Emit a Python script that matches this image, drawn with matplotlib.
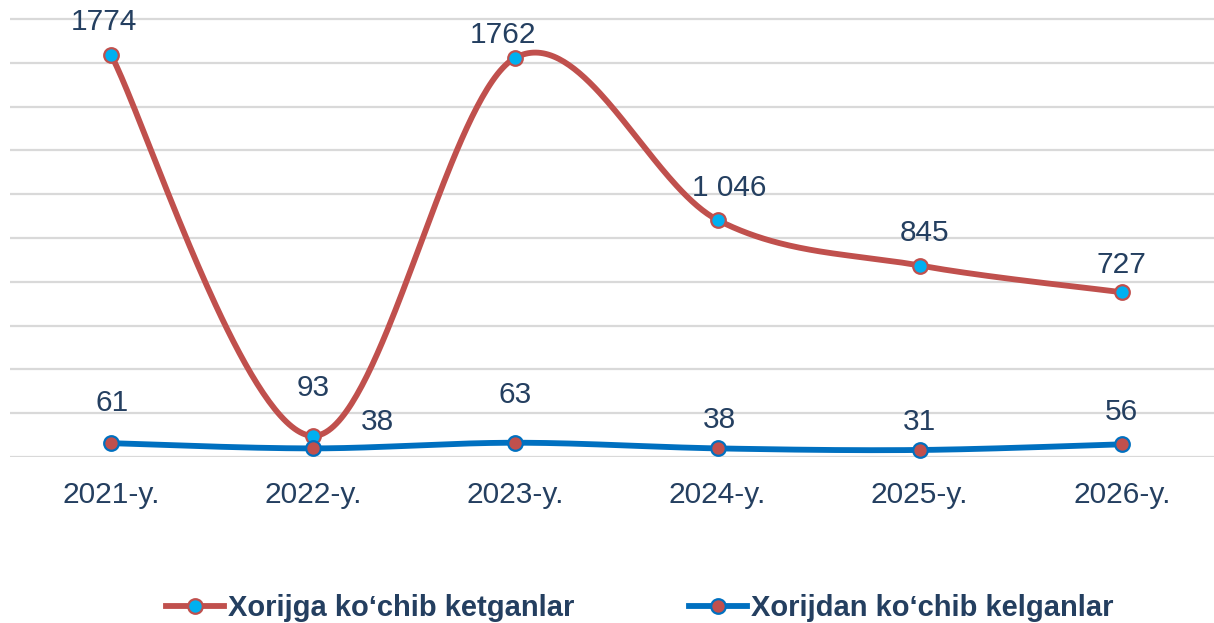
import numpy as np
import matplotlib.pyplot as plt

plt.rcParams['font.family'] = ['Liberation Sans', 'DejaVu Sans']

# -------- DATA --------
years = ["2021-y.", "2022-y.", "2023-y.", "2024-y.", "2025-y.", "2026-y."]
ketgan = [1774, 93, 1762, 1046, 845, 727]
ketgan_text = ["1774", "93", "1762", "1 046", "845", "727"]
kelgan = [61, 38, 63, 38, 31, 56]
kelgan_text = ["61", "38", "63", "38", "31", "56"]
names = ["Xorijga ko\u2018chib ketganlar", "Xorijdan ko\u2018chib kelganlar"]

# label offsets (pixels, from point to label centre)
ketgan_off = [(-7, 33), (0, 48), (-12, 23), (12, 32), (5, 33), (0, 27)]
kelgan_off = [(1, 40), (64, 26), (0, 48), (2, 28), (0, 28), (0, 32)]

TXT = '#243F60'
RED = '#C0504D'
BLUE = '#0070C0'
CYAN = '#00B0F0'
FS = 21.5


# -------- SMOOTH LINE (excel-like bezier) --------
def smooth(y, n=80):
    p = np.column_stack([np.arange(len(y), dtype=float), np.asarray(y, float)])
    xs, ys = [], []
    for i in range(len(p) - 1):
        p0 = p[i - 1] if i > 0 else p[i]
        p1 = p[i]
        p2 = p[i + 1]
        p3 = p[i + 2] if i + 2 < len(p) else p[i + 1]
        c1 = p1 + (p2 - p0) / 6
        c2 = p2 - (p3 - p1) / 6
        t = np.linspace(0, 1, n)[:, None]
        b = (1 - t) ** 3 * p1 + 3 * (1 - t) ** 2 * t * c1 + 3 * (1 - t) * t ** 2 * c2 + t ** 3 * p2
        xs.append(b[:, 0])
        ys.append(b[:, 1])
    return np.concatenate(xs), np.concatenate(ys)


W, H = 1214, 623
fig = plt.figure(figsize=(W / 100, H / 100), dpi=100)

scale = 402 / 1774          # px per unit
top_val = 457 / scale
ax = fig.add_axes([10 / W, 1 - 457 / H, 1213 / W, 457 / H])
ax.set_xlim(-0.5, 5.5)
ax.set_ylim(0, top_val)

step = 438 / scale / 10
ax.set_yticks(np.arange(11) * step)
ax.yaxis.grid(True, color='#D9D9D9', linewidth=1.6)
ax.set_axisbelow(True)
ax.tick_params(axis='y', length=0, labelleft=False)
for s in ax.spines.values():
    s.set_visible(False)

ax.set_xticks(range(len(years)))
ax.set_xticklabels(years)
ax.tick_params(axis='x', length=0, pad=17, labelsize=FS, labelcolor=TXT)

x = np.arange(len(years))

sx, sy = smooth(ketgan)
ax.plot(sx, sy, color=RED, lw=4.2, solid_capstyle='round', zorder=3)
ax.plot(x, ketgan, ls='none', marker='o', ms=10.5, mfc=CYAN, mec=RED, mew=1.6, zorder=4, clip_on=False)

sx, sy = smooth(kelgan)
ax.plot(sx, sy, color=BLUE, lw=4.2, solid_capstyle='round', zorder=3)
ax.plot(x, kelgan, ls='none', marker='o', ms=10.5, mfc=RED, mec=BLUE, mew=1.6, zorder=4, clip_on=False)

for i in range(len(years)):
    ax.annotate(ketgan_text[i], (x[i], ketgan[i]), xytext=ketgan_off[i], textcoords='offset pixels',
                ha='center', va='center', fontsize=FS, color=TXT, annotation_clip=False)
    ax.annotate(kelgan_text[i], (x[i], kelgan[i]), xytext=kelgan_off[i], textcoords='offset pixels',
                ha='center', va='center', fontsize=FS, color=TXT, annotation_clip=False)

# -------- LEGEND --------
h1 = plt.Line2D([], [], color=RED, lw=4.2, marker='o', ms=10.5, mfc=CYAN, mec=RED, mew=1.6)
h2 = plt.Line2D([], [], color=BLUE, lw=4.2, marker='o', ms=10.5, mfc=RED, mec=BLUE, mew=1.6)
fig.legend([h1, h2], names, loc='center', bbox_to_anchor=(0.527, 1 - 608 / H), ncol=2,
           frameon=False, prop={'weight': 'bold', 'size': 21}, labelcolor=TXT,
           handlelength=2.0, handletextpad=0.15, columnspacing=3.9)

fig.savefig('out.png', dpi=100)
